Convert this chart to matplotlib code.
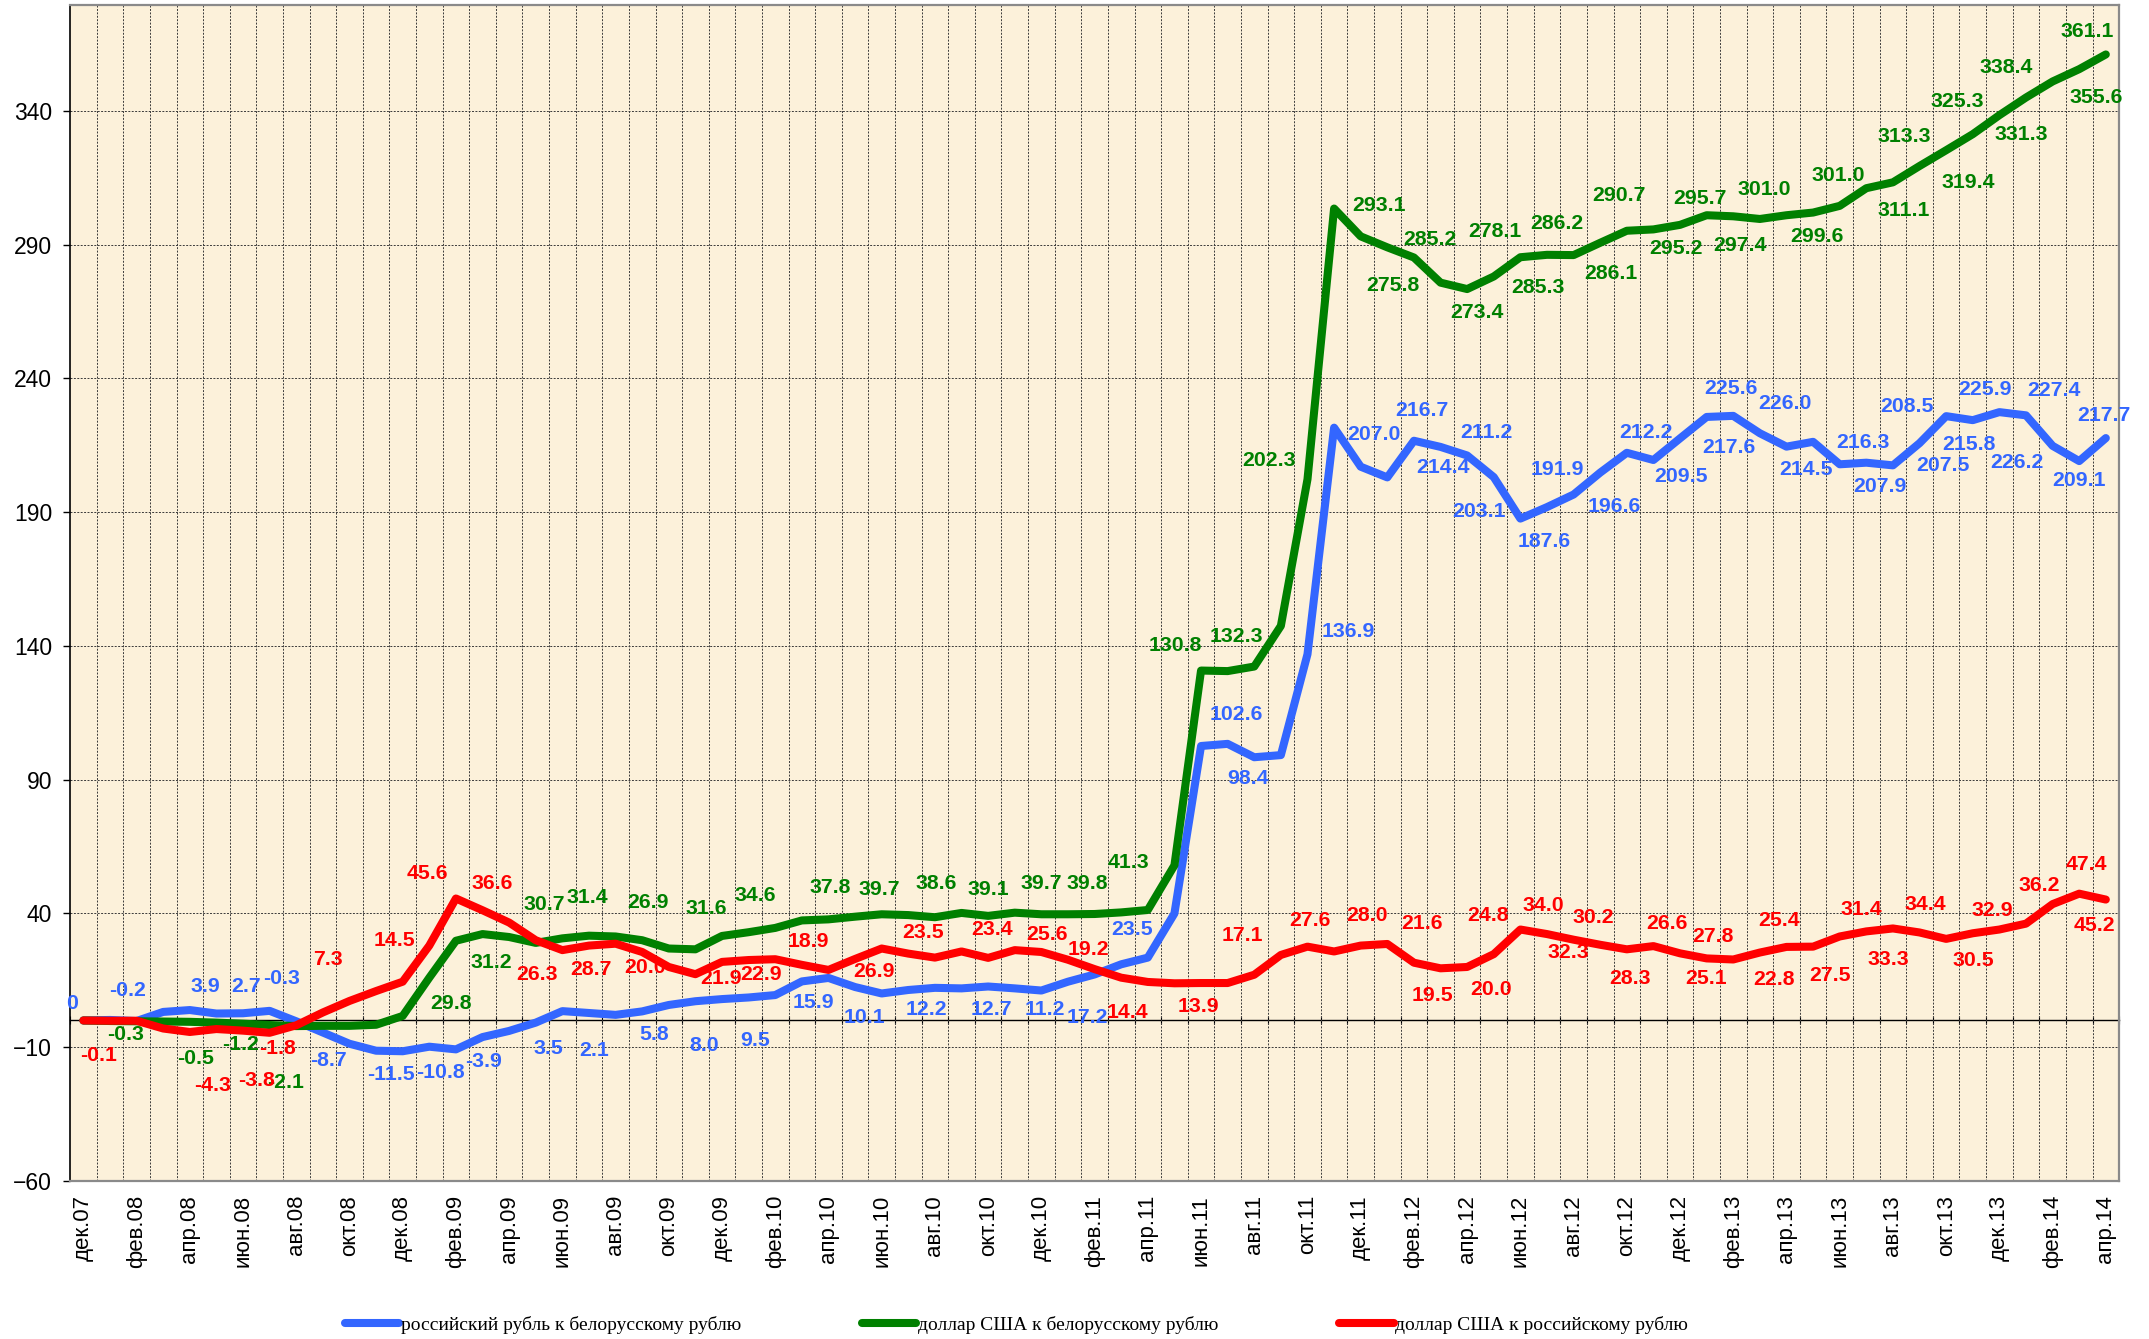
import numpy as np
import matplotlib
matplotlib.use("Agg")
import matplotlib.pyplot as plt
from matplotlib.font_manager import FontProperties

plt.rcParams['font.family'] = ['Liberation Sans', 'DejaVu Sans']

# подписи оси X (каждый второй месяц, дек.07 - апр.14)
tick_labels = ["дек.07", "фев.08", "апр.08", "июн.08", "авг.08", "окт.08",
               "дек.08", "фев.09", "апр.09", "июн.09", "авг.09", "окт.09",
               "дек.09", "фев.10", "апр.10", "июн.10", "авг.10", "окт.10",
               "дек.10", "фев.11", "апр.11", "июн.11", "авг.11", "окт.11",
               "дек.11", "фев.12", "апр.12", "июн.12", "авг.12", "окт.12",
               "дек.12", "фев.13", "апр.13", "июн.13", "авг.13", "окт.13",
               "дек.13", "фев.14", "апр.14"]

series_names = ["российский рубль к белорусскому рублю",
                "доллар США к белорусскому рублю",
                "доллар США к российскому рублю"]

# помесячные значения, % к дек.07
rub_byr = [0.0, 0.2, -0.2, 3.2, 3.9, 2.6, 2.7, 3.6, -0.3, -4.5, -8.7, -11.3,
           -11.5, -9.8, -10.8, -6.2, -3.9, -0.8, 3.5, 2.8, 2.1, 3.4, 5.8, 7.2,
           8.0, 8.6, 9.5, 14.6, 15.9, 12.5, 10.1, 11.4, 12.2, 12.0, 12.7, 12.0,
           11.2, 14.5, 17.2, 21.0, 23.5, 40.0, 102.6, 103.4, 98.4, 99.2, 136.9, 221.6,
           207.0, 203.0, 216.7, 214.4, 211.2, 203.1, 187.6, 191.9, 196.6, 204.8, 212.2, 209.5,
           217.6, 225.6, 226.0, 219.5, 214.5, 216.3, 207.9, 208.5, 207.5, 215.8, 225.9, 224.4,
           227.4, 226.2, 214.8, 209.1, 217.7]

usd_byr = [0.0, -0.2, -0.3, -0.4, -0.5, -0.8, -1.2, -1.7, -2.1, -2.0, -2.0, -1.6,
           1.7, 16.0, 29.8, 32.3, 31.2, 29.0, 30.7, 31.7, 31.4, 30.0, 26.9, 26.6,
           31.6, 33.0, 34.6, 37.4, 37.8, 38.8, 39.7, 39.4, 38.6, 40.2, 39.1, 40.3,
           39.7, 39.7, 39.8, 40.4, 41.3, 58.0, 130.8, 130.6, 132.3, 147.5, 202.3, 303.5,
           293.1, 289.0, 285.2, 275.8, 273.4, 278.1, 285.3, 286.2, 286.1, 290.7, 295.2, 295.7,
           297.4, 301.0, 300.6, 299.6, 301.0, 302.0, 304.5, 311.1, 313.3, 319.4, 325.3, 331.3,
           338.4, 345.0, 351.0, 355.6, 361.1]

usd_rub = [0.0, -0.1, -0.1, -3.0, -4.3, -3.2, -3.8, -4.6, -1.8, 3.0, 7.3, 11.0,
           14.5, 28.0, 45.6, 41.2, 36.6, 30.0, 26.3, 28.0, 28.7, 25.6, 20.0, 17.3,
           21.9, 22.6, 22.9, 20.8, 18.9, 23.0, 26.9, 25.0, 23.5, 25.8, 23.4, 26.3,
           25.6, 22.7, 19.2, 16.0, 14.4, 13.9, 14.0, 14.0, 17.1, 24.5, 27.6, 25.8,
           28.0, 28.6, 21.6, 19.5, 20.0, 24.8, 34.0, 32.3, 30.2, 28.3, 26.6, 27.8,
           25.1, 23.2, 22.8, 25.4, 27.5, 27.6, 31.4, 33.3, 34.4, 32.9, 30.5, 32.6,
           34.0, 36.2, 43.5, 47.4, 45.2]

# подписи данных
rub_byr_labels = ["0", "-0.2", "3.9", "2.7", "-0.3", "-8.7", "-11.5", "-10.8", "-3.9",
                  "3.5", "2.1", "5.8", "8.0", "9.5", "15.9", "10.1", "12.2", "12.7",
                  "11.2", "17.2", "23.5", "102.6", "98.4", "136.9", "207.0", "216.7",
                  "214.4", "211.2", "203.1", "187.6", "191.9", "196.6", "212.2", "209.5",
                  "225.6", "217.6", "226.0", "214.5", "216.3", "207.9", "208.5", "207.5",
                  "215.8", "225.9", "226.2", "227.4", "209.1", "217.7"]
usd_byr_labels = ["-0.3", "-0.5", "-1.2", "-2.1", "29.8", "31.2", "30.7", "31.4", "26.9",
                  "31.6", "34.6", "37.8", "39.7", "38.6", "39.1", "39.7", "39.8", "41.3",
                  "130.8", "132.3", "202.3", "293.1", "285.2", "275.8", "278.1", "273.4",
                  "286.2", "285.3", "290.7", "286.1", "295.7", "295.2", "297.4", "301.0",
                  "299.6", "301.0", "311.1", "313.3", "319.4", "325.3", "331.3", "338.4",
                  "355.6", "361.1"]
usd_rub_labels = ["-0.1", "-4.3", "-3.8", "-1.8", "7.3", "14.5", "45.6", "36.6", "26.3",
                  "28.7", "20.0", "21.9", "22.9", "18.9", "26.9", "23.5", "23.4", "25.6",
                  "19.2", "14.4", "13.9", "17.1", "27.6", "28.0", "21.6", "19.5", "24.8",
                  "20.0", "34.0", "32.3", "30.2", "28.3", "26.6", "27.8", "25.1", "25.4",
                  "22.8", "27.5", "31.4", "33.3", "34.4", "30.5", "32.9", "36.2", "47.4",
                  "45.2"]

# размещение подписей (месяц, уровень по оси Y) - как в исходной диаграмме
rub_byr_label_pos = [(-0.42, 6.5), (1.67, 11.1), (4.58, 12.7), (6.13, 12.7), (7.45, 15.7),
                     (9.21, -15.1), (11.56, -20.1), (13.43, -19.5), (15.05, -15.5),
                     (17.46, -10.5), (19.19, -11.4), (21.45, -5.1), (23.32, -9.2),
                     (25.26, -7.6), (27.42, 6.7), (29.36, 1.1), (31.67, 4.2), (34.11, 4.2),
                     (36.13, 4.2), (37.71, 1.1), (39.4, 33.9), (43.31, 114.5), (43.77, 90.5),
                     (47.55, 145.4), (48.48, 219.2), (50.3, 228.1), (51.11, 206.7),
                     (52.73, 219.8), (52.46, 190.1), (54.88, 178.9), (55.38, 205.8),
                     (57.54, 192.0), (58.73, 219.8), (60.02, 203.2), (61.93, 236.2),
                     (61.84, 214.2), (63.94, 230.7), (64.75, 206.0), (66.86, 216.0),
                     (67.53, 199.6), (68.54, 229.5), (69.87, 207.3), (70.87, 215.4),
                     (71.46, 235.7), (72.65, 208.5), (74.05, 235.3), (75.01, 201.7),
                     (75.93, 226.2)]
usd_byr_label_pos = [(1.6, -5.1), (4.22, -14.2), (5.9, -8.9), (7.6, -23.0), (13.82, 6.3),
                     (15.34, 21.7), (17.31, 43.5), (18.93, 45.9), (21.2, 44.1), (23.42, 41.9),
                     (25.26, 46.8), (28.07, 49.7), (29.9, 49.1), (32.03, 51.3), (34.01, 49.1),
                     (35.98, 51.3), (37.71, 51.3), (39.29, 59.0), (41.05, 140.3),
                     (43.33, 143.6), (44.54, 209.2), (48.7, 304.8), (50.62, 291.8),
                     (49.2, 274.6), (53.05, 294.8), (52.37, 264.6), (55.38, 298.0),
                     (54.65, 274.0), (57.72, 308.5), (57.41, 279.3), (60.73, 307.3),
                     (59.83, 288.7), (62.24, 289.6), (63.15, 310.8), (65.15, 293.1),
                     (65.94, 316.0), (68.41, 302.7), (68.41, 330.5), (70.83, 313.3),
                     (70.42, 343.4), (72.84, 331.0), (72.25, 356.3), (75.63, 345.0),
                     (75.31, 369.7)]
usd_rub_label_pos = [(0.57, -13.0), (4.86, -24.2), (6.5, -22.6), (7.3, -10.5), (9.18, 22.9),
                     (11.7, 29.8), (12.92, 54.9), (15.37, 51.2), (17.03, 17.3), (19.07, 18.9),
                     (21.09, 19.8), (23.97, 15.7), (25.48, 17.3), (27.25, 29.4), (29.72, 18.2),
                     (31.57, 32.9), (34.16, 34.1), (36.23, 32.3), (37.78, 26.4), (39.25, 3.1),
                     (41.92, 5.1), (43.57, 31.9), (46.11, 37.2), (48.25, 39.4), (50.29, 36.4),
                     (50.71, 9.5), (52.77, 39.1), (52.9, 11.7), (54.88, 43.1), (55.82, 25.4),
                     (56.75, 38.5), (58.13, 15.7), (59.5, 36.4), (61.22, 31.4), (60.99, 15.7),
                     (63.72, 37.2), (63.53, 15.4), (65.64, 16.9), (66.82, 41.4), (67.84, 22.9),
                     (69.22, 43.5), (71.03, 22.3), (71.72, 41.0), (73.49, 50.6), (75.27, 58.4),
                     (75.56, 35.6)]

colors = ["#3366FF", "#008000", "#FF0000"]
ymin, ymax = -60, 379.6

fig = plt.figure(figsize=(21.49, 13.39), dpi=100)
ax = fig.add_axes([0.0326, 0.1180, 0.9535, 0.8783])
ax.set_facecolor("#FCF1DA")

x = np.arange(len(rub_byr))
lines = []
for vals, col in zip([rub_byr, usd_byr, usd_rub], colors):
    ln, = ax.plot(x, vals, color=col, lw=5.8, solid_joinstyle="round",
                  solid_capstyle="round", zorder=3)
    lines.append(ln)

for texts, pos, col in zip([rub_byr_labels, usd_byr_labels, usd_rub_labels],
                           [rub_byr_label_pos, usd_byr_label_pos, usd_rub_label_pos],
                           colors):
    for t, (px, py) in zip(texts, pos):
        ax.text(px, py, t, color=col, fontsize=15.3, fontweight="bold",
                ha="center", va="center", zorder=5)

ax.set_xlim(-0.5, 76.5)
ax.set_ylim(ymin, ymax)

# ось Y
ax.set_yticks(np.arange(-60, 341, 50))
ax.tick_params(axis="y", length=5, width=1, pad=8, labelsize=16.5, direction="out")

# ось X: подписи через месяц, сетка по границам месяцев
ax.set_xticks(np.arange(0, 77, 2))
ax.set_xticklabels(tick_labels, rotation=90)
ax.set_xticks(np.arange(0.5, 76, 1), minor=True)
ax.tick_params(axis="x", which="both", length=0, pad=10, labelsize=16)

grid_style = dict(color="#3a3a3a", linestyle=(0, (2, 1.5)), lw=0.7)
ax.grid(True, which="minor", axis="x", **grid_style)
ax.grid(True, which="major", axis="y", **grid_style)
ax.set_axisbelow(True)

for side in ["top", "right", "bottom"]:
    ax.spines[side].set_color("#8a8a8a")
    ax.spines[side].set_linewidth(1.6)
ax.spines["left"].set_color("black")
ax.spines["left"].set_linewidth(1.2)

# горизонтальная ось категорий проходит через ноль
zero_ax = ax.secondary_xaxis((0 - ymin) / (ymax - ymin))
zero_ax.set_xticks(np.arange(-0.5, 77, 1))
zero_ax.tick_params(axis="x", direction="inout", length=6, width=0.8,
                    labelbottom=False, labeltop=False)
zero_ax.spines["bottom"].set_linewidth(1.0)
zero_ax.spines["bottom"].set_color("black")

fig.legend(lines, series_names, loc="center", bbox_to_anchor=(0.473, 0.0105),
           ncol=3, frameon=False, handlelength=2.8, handletextpad=0.1,
           columnspacing=6.2, prop=FontProperties(family="Liberation Serif", size=14))

fig.savefig("out.png", dpi=100)
